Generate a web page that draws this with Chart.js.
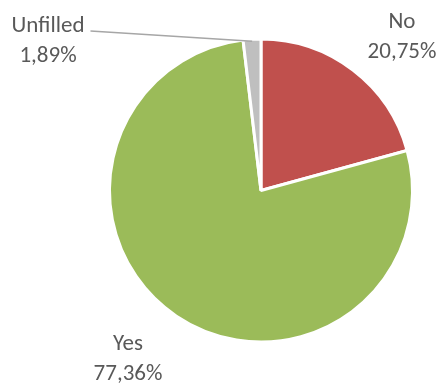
<!DOCTYPE html>
<html>
<head>
<meta charset="utf-8">
<script src="https://cdn.jsdelivr.net/npm/chart.js@4/dist/chart.umd.min.js"></script>
<style>
  html, body { margin: 0; padding: 0; background: #ffffff; }
  #wrap { width: 442px; height: 385px; }
</style>
</head>
<body>
<div id="wrap"><canvas id="pie" width="442" height="385"></canvas></div>
<script>
// Survey answers and their shares (percent)
const categories = ['No', 'Yes', 'Unfilled'];
const shares = [20.75, 77.36, 1.89];
const sliceColors = ['#C0504D', '#9BBB59', '#BFBFBF'];

// Where each data label block sits, relative to the pie centre (px),
// and whether it is tied to its slice with a leader line.
const labelLayout = [
  { dx: 141, dy: -163, leader: false },
  { dx: -133, dy: 159.5, leader: false },
  { dx: -213, dy: -158.5, leader: true }
];

const fmt = v => v.toFixed(2).replace('.', ',') + '%';

const pieLabels = {
  id: 'pieLabels',
  afterDatasetsDraw(chart) {
    const ctx = chart.ctx;
    const meta = chart.getDatasetMeta(0);
    const font = '23px Carlito, Lato, "Open Sans", sans-serif';
    const lineGap = 30;
    ctx.save();
    ctx.font = font;
    ctx.textAlign = 'center';
    ctx.textBaseline = 'alphabetic';
    meta.data.forEach((arc, i) => {
      const p = arc.getProps(['x', 'y', 'startAngle', 'endAngle', 'outerRadius'], true);
      const lay = labelLayout[i];
      const cx = p.x + lay.dx;
      const base1 = p.y + lay.dy;
      const name = chart.data.labels[i];
      const val = fmt(chart.data.datasets[0].data[i]);
      if (lay.leader) {
        const mid = (p.startAngle + p.endAngle) / 2;
        const r = p.outerRadius - 2;
        const ex = p.x + Math.cos(mid) * r;
        const ey = p.y + Math.sin(mid) * r;
        const w = ctx.measureText(name).width;
        ctx.beginPath();
        ctx.strokeStyle = '#A6A6A6';
        ctx.lineWidth = 1.5;
        ctx.moveTo(cx + w / 2 + 6, base1 - 1);
        ctx.lineTo(ex, ey);
        ctx.stroke();
      }
      ctx.fillStyle = '#595959';
      ctx.fillText(name, cx, base1);
      ctx.fillText(val, cx, base1 + lineGap);
    });
    ctx.restore();
  }
};

new Chart(document.getElementById('pie'), {
  type: 'pie',
  data: {
    labels: categories,
    datasets: [{
      data: shares,
      backgroundColor: sliceColors,
      borderColor: '#ffffff',
      borderWidth: 3,
      hoverOffset: 0,
      radius: 151.5
    }]
  },
  options: {
    responsive: false,
    animation: false,
    events: [],
    layout: { padding: { left: 109, right: 29, top: 38, bottom: 42 } },
    plugins: {
      legend: { display: false },
      tooltip: { enabled: false }
    }
  },
  plugins: [pieLabels]
});
</script>
</body>
</html>
